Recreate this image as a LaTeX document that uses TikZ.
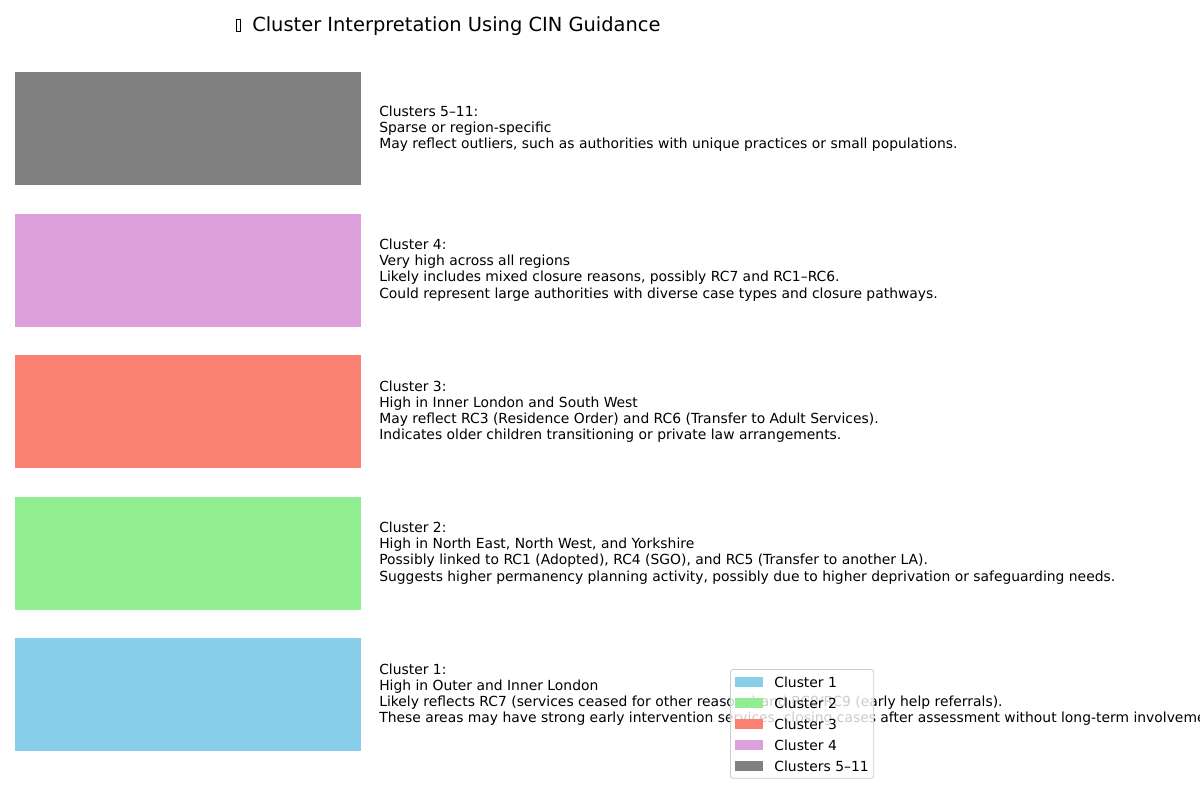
\documentclass[tikz,border=0pt]{standalone}
\usepackage{fontspec}
\setmainfont{DejaVu Sans}
\usetikzlibrary{matrix,positioning}

\definecolor{skyblue}{HTML}{87CEEB}
\definecolor{lightgreen}{HTML}{90EE90}
\definecolor{salmon}{HTML}{FA8072}
\definecolor{plum}{HTML}{DDA0DD}
\definecolor{midgray}{HTML}{808080}
\definecolor{legendedge}{HTML}{CCCCCC}

\newcommand{\tofubox}{\hspace{1pt}{\setlength{\fboxsep}{0pt}\setlength{\fboxrule}{0.5pt}\fbox{\rule{0pt}{8.4pt}\hspace{2.8pt}}}\hspace{3.6pt}}

\begin{document}
\begin{tikzpicture}[x=0.72pt, y=-0.72pt,
    clusterbar/.style={minimum width=249.12pt, minimum height=81.36pt, inner sep=0pt, outer sep=0pt},
    clustertext/.style={align=left, inner sep=0pt, font=\fontsize{10}{11.6}\selectfont}]
    \useasboundingbox (0,0) rectangle (1200,800);
    \clip (0,0) rectangle (1200,800);
    \fill[white] (0,0) rectangle (1200,800);

    \node[anchor=base, font=\fontsize{14}{16.8}\selectfont] (title) at (447.5,31) {\tofubox{} Cluster Interpretation Using CIN Guidance};

    \node[clusterbar, fill=midgray] (bar5) at (188,128.5) {};
    \node[clusterbar, fill=plum] (bar4) at (188,270) {};
    \node[clusterbar, fill=salmon] (bar3) at (188,411.5) {};
    \node[clusterbar, fill=lightgreen] (bar2) at (188,553) {};
    \node[clusterbar, fill=skyblue] (bar1) at (188,694.5) {};

    \node[clustertext, right=12.96pt of bar5] (text5) {Clusters 5–11:\\Sparse or region-specific\\May reflect outliers, such as authorities with unique practices or small populations.};
    \node[clustertext, right=12.96pt of bar4] (text4) {Cluster 4:\\Very high across all regions\\Likely includes mixed closure reasons, possibly RC7 and RC1–RC6.\\Could represent large authorities with diverse case types and closure pathways.};
    \node[clustertext, right=12.96pt of bar3] (text3) {Cluster 3:\\High in Inner London and South West\\May reflect RC3 (Residence Order) and RC6 (Transfer to Adult Services).\\Indicates older children transitioning or private law arrangements.};
    \node[clustertext, right=12.96pt of bar2] (text2) {Cluster 2:\\High in North East, North West, and Yorkshire\\Possibly linked to RC1 (Adopted), RC4 (SGO), and RC5 (Transfer to another LA).\\Suggests higher permanency planning activity, possibly due to higher deprivation or safeguarding needs.};
    \node[clustertext, right=12.96pt of bar1] (text1) {Cluster 1:\\High in Outer and Inner London\\Likely reflects RC7 (services ceased for other reasons) and RC8/RC9 (early help referrals).\\These areas may have strong early intervention services, closing cases after assessment without long-term involvement.};

    \matrix[matrix of nodes,
            ampersand replacement=\&,
            anchor=north west,
            draw=legendedge, line width=0.6pt, rounded corners=2pt,
            fill=white, fill opacity=0.8, text opacity=1,
            inner xsep=3.6pt, inner ysep=1.4pt,
            nodes={fill opacity=1, sharp corners, inner sep=0pt, minimum height=15.12pt},
            column 1/.style={nodes={minimum width=20.16pt, minimum height=7.2pt, anchor=center}},
            column 2/.style={nodes={anchor=west, font=\fontsize{10}{12}\selectfont}},
            row sep=0pt,
            column sep=7.9pt] (legend) at (730,669) {
      |[fill=skyblue]| {} \& Cluster 1 \\
      |[fill=lightgreen]| {} \& Cluster 2 \\
      |[fill=salmon]| {} \& Cluster 3 \\
      |[fill=plum]| {} \& Cluster 4 \\
      |[fill=midgray]| {} \& Clusters 5–11 \\
    };
\end{tikzpicture}
\end{document}
